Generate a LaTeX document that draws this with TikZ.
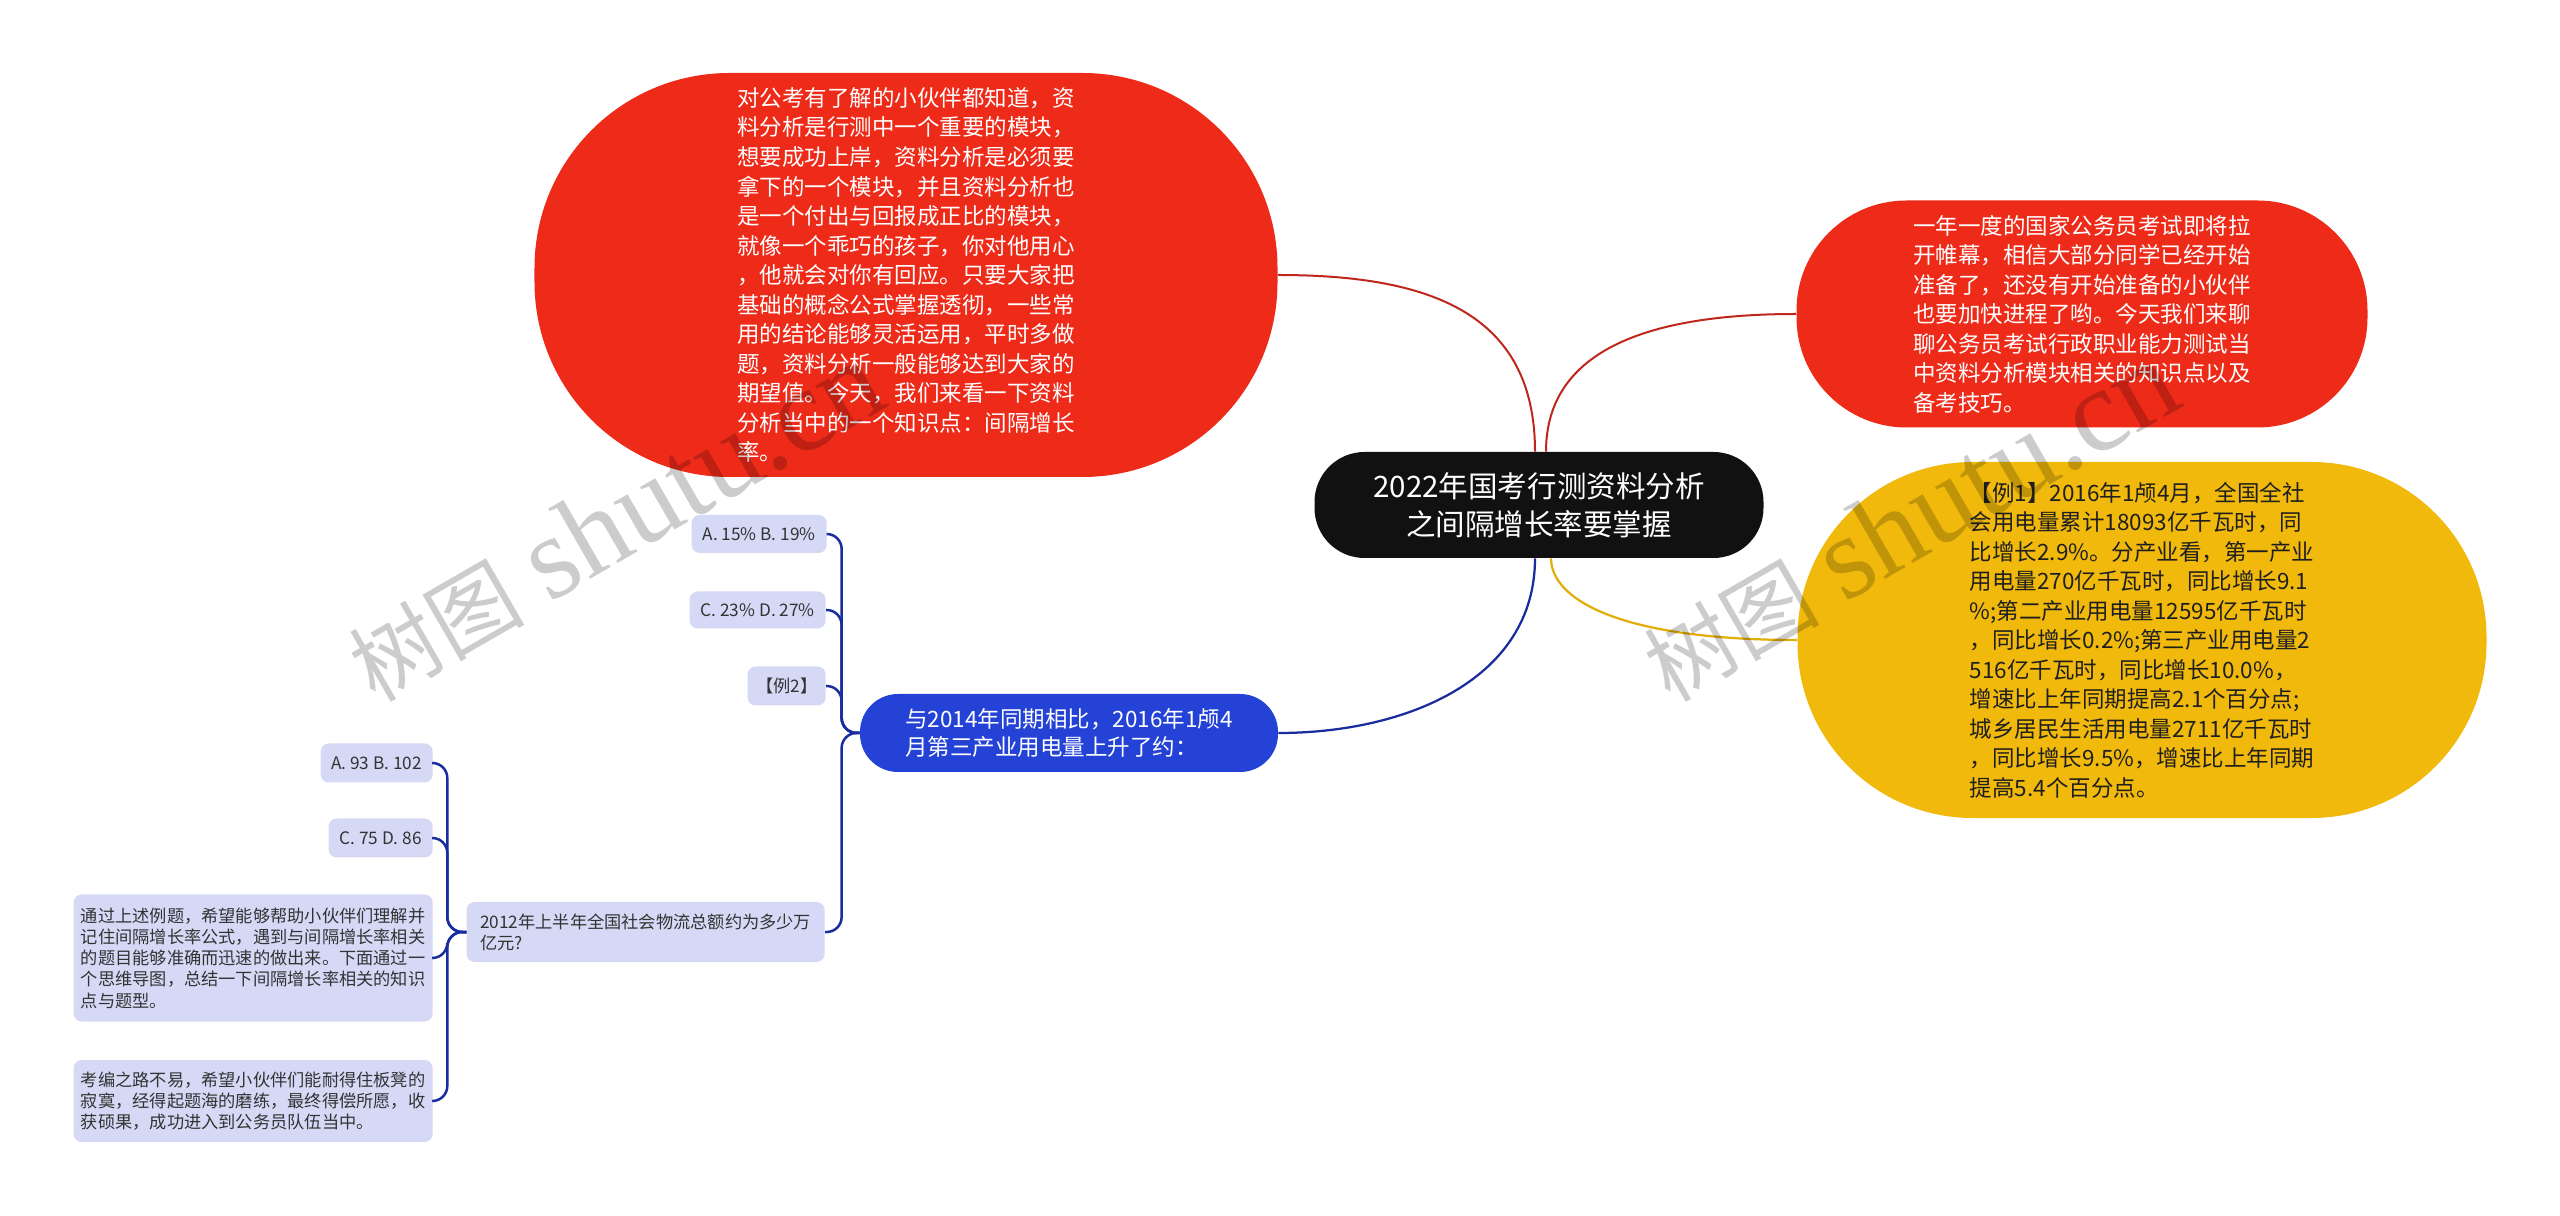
\documentclass[tikz,border=0pt]{standalone}
\usepackage{fontspec}
\setmainfont{Noto Sans CJK SC}
\newfontfamily\wmfont{Liberation Serif}
\usetikzlibrary{positioning}

\definecolor{mmred}{HTML}{EE2A19}
\definecolor{mmredline}{HTML}{C0271C}
\definecolor{mmyellow}{HTML}{F0B90C}
\definecolor{mmyelline}{HTML}{E2AE0A}
\definecolor{mmblue}{HTML}{2443D6}
\definecolor{mmnavy}{HTML}{1A2D9E}
\definecolor{mmleaf}{HTML}{D5D9F6}
\definecolor{mmdark}{HTML}{111111}

\begin{document}
\begin{tikzpicture}[
    x=0.2mm, y=-0.2mm,
    hub/.style={fill=mmdark, text=white, rounded corners=10mm, minimum width=89.8mm, minimum height=21.2mm, align=center, font=\fontsize{16.8}{21.6}\selectfont},
    redbox/.style={fill=mmred, text=white, align=left, font=\fontsize{12.8}{16.8}\selectfont},
    yelbox/.style={fill=mmyellow, text=black!88, align=left, font=\fontsize{12.8}{16.8}\selectfont},
    bluebox/.style={fill=mmblue, text=white, align=left, rounded corners=7.6mm, minimum width=83.6mm, minimum height=15.6mm, font=\fontsize{12.8}{16}\selectfont},
    leaf/.style={fill=mmleaf, text=black!80, align=left, rounded corners=1.6mm, inner xsep=1.4mm, font=\fontsize{9.8}{12.1}\selectfont},
    redline/.style={draw=mmredline, line width=0.4mm},
    yelline/.style={draw=mmyelline, line width=0.45mm},
    blueline/.style={draw=mmnavy, line width=0.45mm},
    trunk/.style={draw=mmnavy, line width=0.5mm, rounded corners=3mm},
    wmark/.style={text=black, opacity=0.2, rotate=30},
]
\useasboundingbox (0,0) rectangle (2560,1216);
\fill[white] (0,0) rectangle (2560,1216);

% centre
\node[hub] (hub) at (1539,505) {2022年国考行测资料分析\\之间隔增长率要掌握};

% main branches
\node[redbox, rounded corners=39mm, minimum width=148.6mm, minimum height=80.8mm] (intro) at (906,275) {对公考有了解的小伙伴都知道，资\\料分析是行测中一个重要的模块，\\想要成功上岸，资料分析是必须要\\拿下的一个模块，并且资料分析也\\是一个付出与回报成正比的模块，\\就像一个乖巧的孩子，你对他用心\\，他就会对你有回应。只要大家把\\基础的概念公式掌握透彻，一些常\\用的结论能够灵活运用，平时多做\\题，资料分析一般能够达到大家的\\期望值。今天，我们来看一下资料\\分析当中的一个知识点：间隔增长\\率。};
\node[redbox, rounded corners=22mm, minimum width=114.2mm, minimum height=45.4mm] (open) at (2082,314) {一年一度的国家公务员考试即将拉\\开帷幕，相信大部分同学已经开始\\准备了，还没有开始准备的小伙伴\\也要加快进程了哟。今天我们来聊\\聊公务员考试行政职业能力测试当\\中资料分析模块相关的知识点以及\\备考技巧。};
\node[yelbox, rounded corners=35mm, minimum width=137.8mm, minimum height=71.2mm] (ex1) at (2142,640) {【例1】2016年1颅4月，全国全社\\会用电量累计18093亿千瓦时，同\\比增长2.9\%。分产业看，第一产业\\用电量270亿千瓦时，同比增长9.1\\\%;第二产业用电量12595亿千瓦时\\，同比增长0.2\%;第三产业用电量2\\516亿千瓦时，同比增长10.0\%，\\增速比上年同期提高2.1个百分点;\\城乡居民生活用电量2711亿千瓦时\\，同比增长9.5\%，增速比上年同期\\提高5.4个百分点。};
\node[bluebox] (q1) at (1069,733) {与2014年同期相比，2016年1颅4\\月第三产业用电量上升了约：};

\draw[redline] ([xshift=-0.8mm]hub.north) .. controls +(0,-140) and +(150,0) .. (intro.east);
\draw[redline] ([xshift=1.4mm]hub.north) .. controls +(0,-110) and +(-130,0) .. (open.west);
\draw[yelline] ([xshift=2.4mm]hub.south) .. controls +(0,40) and +(-180,0) .. (ex1.west);
\draw[blueline] ([xshift=-0.8mm]hub.south) .. controls +(0,120) and +(130,0) .. (q1.east);

% example 2
\node[leaf, anchor=east, minimum width=27mm, minimum height=7.6mm] (a15) at (827,534) {A. 15\% B. 19\%};
\node[leaf, anchor=east, minimum width=27.2mm, minimum height=7.4mm] (c23) at (826,610) {C. 23\% D. 27\%};
\node[leaf, anchor=east, minimum width=15.6mm, minimum height=7.8mm] (li2) at (826,686) {【例2】};
\node[leaf, anchor=east, minimum width=71.6mm, minimum height=12mm] (q2) at (825,932) {2012年上半年全国社会物流总额约为多少万\\亿元?};

\foreach \kid in {a15, c23, li2, q2}
    \draw[trunk] (q1.west) -- ++(-18,0) |- (\kid.east);

% question 2
\node[leaf, anchor=east, minimum width=22.4mm, minimum height=7.8mm] (a93) at (433,763) {A. 93 B. 102};
\node[leaf, anchor=east, minimum width=20.8mm, minimum height=7.8mm] (c75) at (433,838) {C. 75 D. 86};
\node[leaf, anchor=east, minimum width=71.8mm, minimum height=25.4mm] (sum) at (433,958) {通过上述例题，希望能够帮助小伙伴们理解并\\记住间隔增长率公式，遇到与间隔增长率相关\\的题目能够准确而迅速的做出来。下面通过一\\个思维导图，总结一下间隔增长率相关的知识\\点与题型。};
\node[leaf, anchor=east, minimum width=71.8mm, minimum height=16.4mm] (wish) at (433,1101) {考编之路不易，希望小伙伴们能耐得住板凳的\\寂寞，经得起题海的磨练，最终得偿所愿，收\\获硕果，成功进入到公务员队伍当中。};

\foreach \kid in {a93, c75, sum, wish}
    \draw[trunk] (q2.west) -- ++(-19,0) |- (\kid.east);

% watermarks
\node[wmark] (wm1) at (615,522) {{\fontsize{50}{50}\selectfont 树图}\hspace{14pt}{\wmfont\fontsize{67}{67}\selectfont shutu.cn}};
\node[wmark] (wm2) at (1910,522) {{\fontsize{50}{50}\selectfont 树图}\hspace{14pt}{\wmfont\fontsize{67}{67}\selectfont shutu.cn}};
\end{tikzpicture}
\end{document}
